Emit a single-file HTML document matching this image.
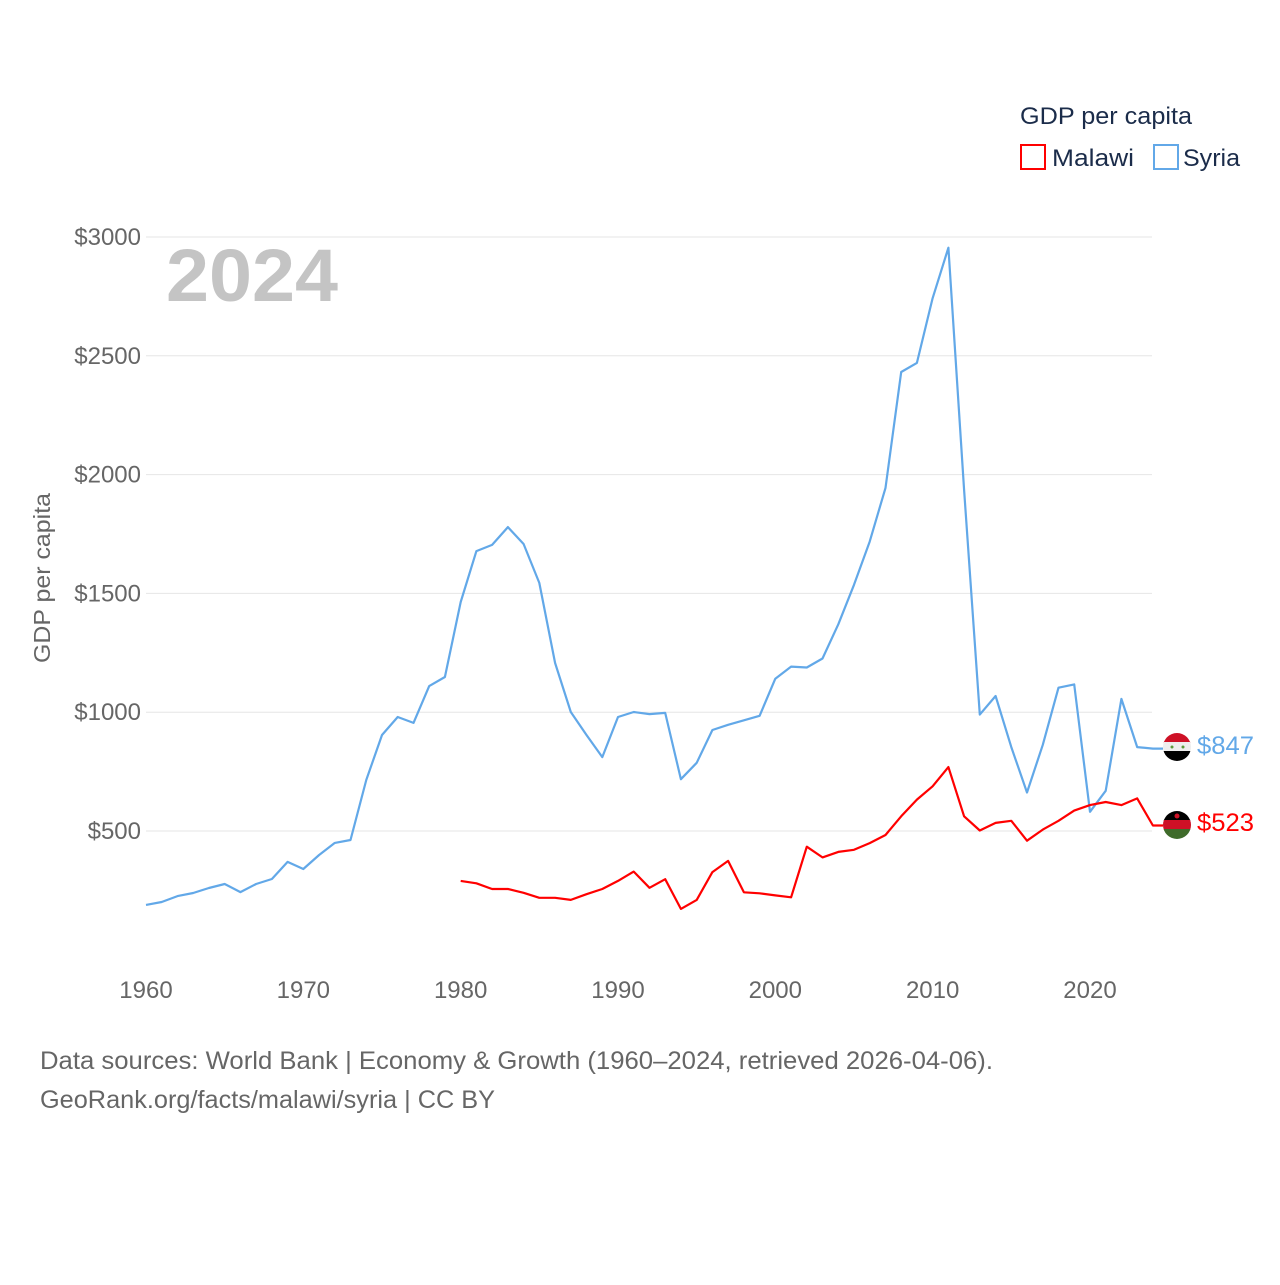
<!DOCTYPE html>
<html><head><meta charset="utf-8">
<style>
body{margin:0;background:#fff;width:1280px;height:1280px;overflow:hidden;font-family:"Liberation Sans",sans-serif;}
svg text{font-family:"Liberation Sans",sans-serif;}
</style></head>
<body>
<svg id="chart" width="1280" height="1280" viewBox="0 0 1280 1280">
<g id="grid"></g>
<g id="yticks"></g>
<g id="xticks"></g>
<text x="166" y="301" font-size="74" font-weight="bold" fill="#c4c4c4" textLength="172" lengthAdjust="spacingAndGlyphs">2024</text>
<text transform="translate(50,578) rotate(-90)" font-size="23" fill="#666" text-anchor="middle" textLength="170" lengthAdjust="spacingAndGlyphs">GDP per capita</text>
<g id="series"></g>
<g>
<text x="1020" y="124" font-size="24" fill="#1b2c4a" textLength="172" lengthAdjust="spacingAndGlyphs">GDP per capita</text>
<g>
<rect x="1021" y="145" width="24" height="24" fill="none" stroke="#ff0000" stroke-width="2"/>
<text x="1052" y="166" font-size="24" fill="#1b2c4a" textLength="82" lengthAdjust="spacingAndGlyphs">Malawi</text></g>
<g>
<rect x="1154" y="145" width="24" height="24" fill="none" stroke="#62a8e8" stroke-width="2"/>
<text x="1183" y="166" font-size="24" fill="#1b2c4a" textLength="57" lengthAdjust="spacingAndGlyphs">Syria</text></g>
</g>
<defs>
<clipPath id="c1"><circle cx="1177" cy="747" r="14"/></clipPath>
<clipPath id="c2"><circle cx="1177" cy="825" r="14"/></clipPath>
</defs>
<g clip-path="url(#c1)">
<rect x="1163" y="733" width="28" height="10" fill="#ce1126"/>
<rect x="1163" y="742" width="28" height="10" fill="#eee"/>
<rect x="1163" y="751" width="28" height="10" fill="#000"/>
<circle cx="1172" cy="747" r="1.5" fill="#5a9a3a"/><circle cx="1183" cy="747" r="1.5" fill="#5a9a3a"/>
</g>
<g clip-path="url(#c2)">
<rect x="1163" y="811" width="28" height="10" fill="#000"/>
<rect x="1163" y="820" width="28" height="10" fill="#ce1126"/>
<rect x="1163" y="829" width="28" height="10" fill="#3f6b2b"/>
<circle cx="1177" cy="816" r="2.5" fill="#ce1126"/>
</g>
<text id="lab-syria" x="1197" y="754" font-size="25" fill="#62a8e8" textLength="57" lengthAdjust="spacingAndGlyphs">$847</text>
<text id="lab-malawi" x="1197" y="831" font-size="25" fill="#ff0000" textLength="57" lengthAdjust="spacingAndGlyphs">$523</text>
<text x="40" y="1069" font-size="25" fill="#666" textLength="953" lengthAdjust="spacingAndGlyphs">Data sources: World Bank | Economy &amp; Growth (1960–2024, retrieved 2026-04-06).</text>
<text x="40" y="1108" font-size="25" fill="#666" textLength="455" lengthAdjust="spacingAndGlyphs">GeoRank.org/facts/malawi/syria | CC BY</text>
</svg>
<script>
const syriaYears = [1960,1961,1962,1963,1964,1965,1966,1967,1968,1969,1970,1971,1972,1973,1974,1975,1976,1977,1978,1979,1980,1981,1982,1983,1984,1985,1986,1987,1988,1989,1990,1991,1992,1993,1994,1995,1996,1997,1998,1999,2000,2001,2002,2003,2004,2005,2006,2007,2008,2009,2010,2011,2012,2013,2014,2015,2016,2017,2018,2019,2020,2021,2022,2023,2024];
const syriaValues = [189,201,226,239,260,277,243,277,298,370,340,399,450,462,715,904,980,955,1110,1148,1464,1678,1704,1779,1708,1544,1207,1001,904,811,980,1001,992,997,718,787,925,947,966,985,1141,1192,1188,1226,1370,1536,1718,1944,2432,2470,2742,2955,1935,990,1068,853,662,863,1103,1117,581,669,1056,853,847];
const malawiYears = [1980,1981,1982,1983,1984,1985,1986,1987,1988,1989,1990,1991,1992,1993,1994,1995,1996,1997,1998,1999,2000,2001,2002,2003,2004,2005,2006,2007,2008,2009,2010,2011,2012,2013,2014,2015,2016,2017,2018,2019,2020,2021,2022,2023,2024];
const malawiValues = [290,280,256,256,240,219,219,210,234,256,290,329,261,297,172,210,327,374,242,238,229,221,434,389,412,421,449,483,562,632,688,769,562,502,534,543,459,506,543,586,609,622,609,637,523];
const yTicks = [500,1000,1500,2000,2500,3000];
const yTickLabels = ["$500","$1000","$1500","$2000","$2500","$3000"];
const xTicks = [1960,1970,1980,1990,2000,2010,2020];

const X = y => 146 + (y - 1960) * 15.733;
const Y = v => 831 - (v - 500) * 0.2376;
const NS = "http://www.w3.org/2000/svg";
function mk(tag, attrs, parent){const e=document.createElementNS(NS,tag);for(const k in attrs)e.setAttribute(k,attrs[k]);parent.appendChild(e);return e;}

const grid=document.getElementById('grid'), yt=document.getElementById('yticks'), xt=document.getElementById('xticks'), ser=document.getElementById('series');
yTicks.forEach((v,i)=>{
  const l=mk('line',{x1:146,x2:1152,y1:Y(v),y2:Y(v),stroke:'#e6e6e6','stroke-width':1},grid);
  
  
  const t=mk('text',{x:141,y:Y(v)+8,'font-size':24,fill:'#666','text-anchor':'end'},yt);
  t.textContent=yTickLabels[i];
  
  
});
xTicks.forEach(y=>{
  const t=mk('text',{x:X(y),y:998,'font-size':24,fill:'#666','text-anchor':'middle'},xt);
  t.textContent=y;
  
  
});
function line(years, vals, color, name){
  const pts=years.map((y,i)=>X(y).toFixed(1)+','+Y(vals[i]).toFixed(1));
  const lastY=Y(vals[vals.length-1]);
  pts.push('1163,'+lastY.toFixed(1));
  const p=mk('polyline',{points:pts.join(' '),fill:'none',stroke:color,'stroke-width':2.2,'stroke-linejoin':'round'},ser);
  
  
}
line(syriaYears,syriaValues,'#62a8e8','syria-line');
line(malawiYears,malawiValues,'#ff0000','malawi-line');
</script>
</body></html>
